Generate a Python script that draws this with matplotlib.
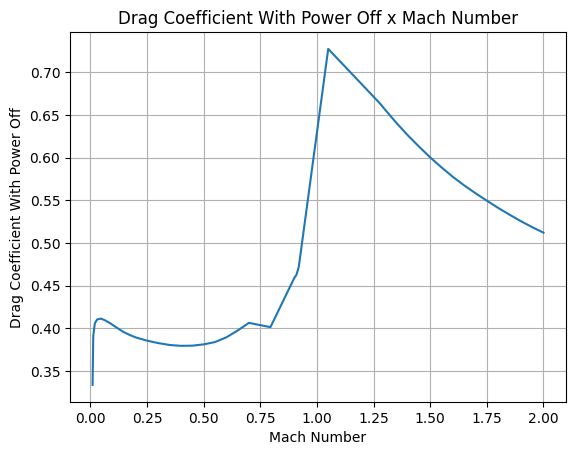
import numpy as np
import matplotlib
matplotlib.use("Agg")
from matplotlib import pyplot as plt

# power-off drag curve
mach = [0.01, 0.013, 0.02, 0.03, 0.047, 0.065, 0.087, 0.115, 0.145, 0.175,
        0.2, 0.25, 0.3, 0.35, 0.4, 0.45, 0.5, 0.55, 0.6, 0.65, 0.7, 0.795,
        0.9, 0.91, 0.92, 1.05, 1.278, 1.3, 1.35, 1.4, 1.45, 1.5, 1.55, 1.6,
        1.65, 1.7, 1.75, 1.8, 1.85, 1.9, 1.95, 2.0]
cd_off = [0.3338, 0.391, 0.406, 0.4105, 0.4115, 0.4095, 0.4062, 0.4012,
          0.396, 0.3922, 0.3895, 0.3857, 0.3828, 0.3806, 0.3796, 0.3798,
          0.3813, 0.384, 0.3895, 0.3975, 0.4065, 0.4015, 0.459, 0.463, 0.472,
          0.7275, 0.6637, 0.6566, 0.6411, 0.6266, 0.6132, 0.6004, 0.5887,
          0.5776, 0.5676, 0.5584, 0.5497, 0.5412, 0.5333, 0.5257, 0.5187,
          0.5122]

plt.figure(figsize=(6.4, 4.8), dpi=100)
plt.plot(mach, cd_off)
plt.title('Drag Coefficient With Power Off x Mach Number')
plt.xlabel('Mach Number')
plt.ylabel('Drag Coefficient With Power Off')
plt.grid(True)
plt.savefig('out.png', dpi=100, bbox_inches='tight')
